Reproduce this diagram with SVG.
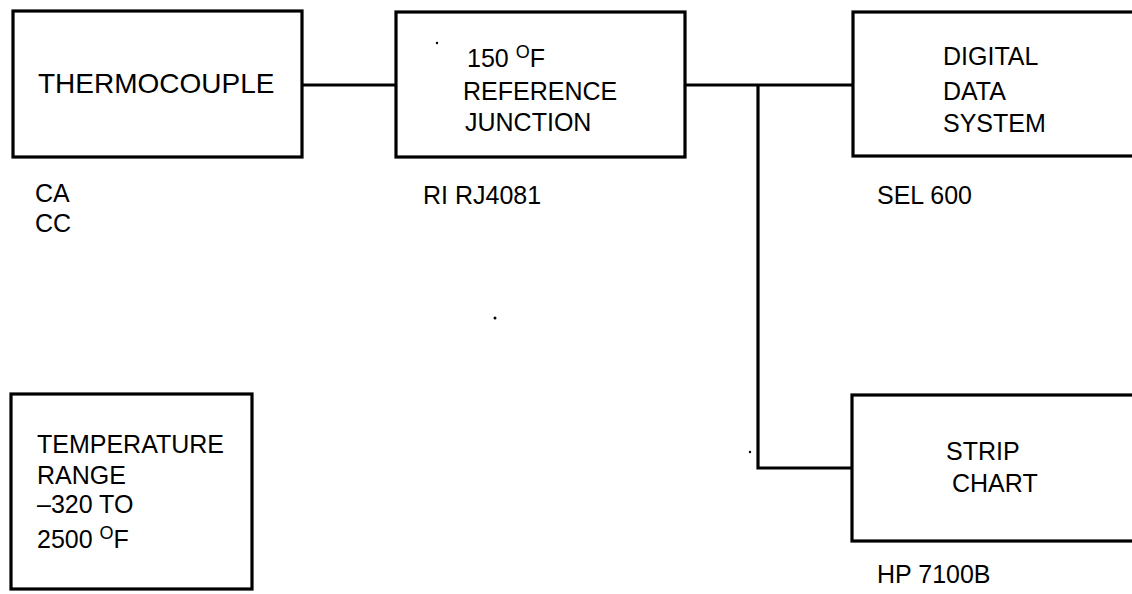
<svg xmlns="http://www.w3.org/2000/svg" width="1132" height="594" viewBox="0 0 1132 594">
<style>
.box{fill:#fff;stroke:#000;stroke-width:3.2}
.wire{fill:none;stroke:#000;stroke-width:3.2}
text{font-family:"Liberation Sans",Arial,sans-serif;font-size:25px;fill:#000}
.sup{font-size:18px}
</style>
<rect width="1132" height="594" fill="#fff"/>
<g id="connectors">
<line class="wire" x1="302" y1="85" x2="396" y2="85"/>
<polyline class="wire" points="685,85 853,85"/>
<polyline class="wire" points="758,85 758,468 852,468"/>
</g>
<g id="thermocouple">
<rect class="box" x="13" y="11" width="289" height="146"/>
<text x="38" y="93" style="font-size:28px">THERMOCOUPLE</text>
<text x="35" y="202">CA</text>
<text x="35" y="232">CC</text>
</g>
<g id="reference-junction">
<rect class="box" x="396" y="12" width="289" height="145"/>
<text x="467" y="67">150 <tspan class="sup" dy="-9">O</tspan><tspan dy="9">F</tspan></text>
<text x="463" y="100">REFERENCE</text>
<text x="465" y="131">JUNCTION</text>
<text x="423" y="204">RI RJ4081</text>
</g>
<g id="digital-data-system">
<rect class="box" x="853" y="12" width="300" height="144"/>
<text x="943" y="65">DIGITAL</text>
<text x="943" y="100">DATA</text>
<text x="943" y="132">SYSTEM</text>
<text x="877" y="204">SEL 600</text>
</g>
<g id="strip-chart">
<rect class="box" x="852" y="395" width="300" height="146"/>
<text x="946" y="460">STRIP</text>
<text x="952" y="492">CHART</text>
<text x="877" y="583">HP 7100B</text>
</g>
<g id="temperature-range">
<rect class="box" x="11" y="394" width="241" height="195"/>
<text x="37" y="453">TEMPERATURE</text>
<text x="37" y="484">RANGE</text>
<text x="37" y="513">–320 TO</text>
<text x="37" y="548">2500 <tspan class="sup" dy="-9">O</tspan><tspan dy="9">F</tspan></text>
</g>
<g id="specks" fill="#000">
<circle cx="437" cy="43" r="1.2"/>
<circle cx="495" cy="318" r="1.5"/>
<circle cx="750" cy="452" r="1.2"/>
</g>
</svg>
